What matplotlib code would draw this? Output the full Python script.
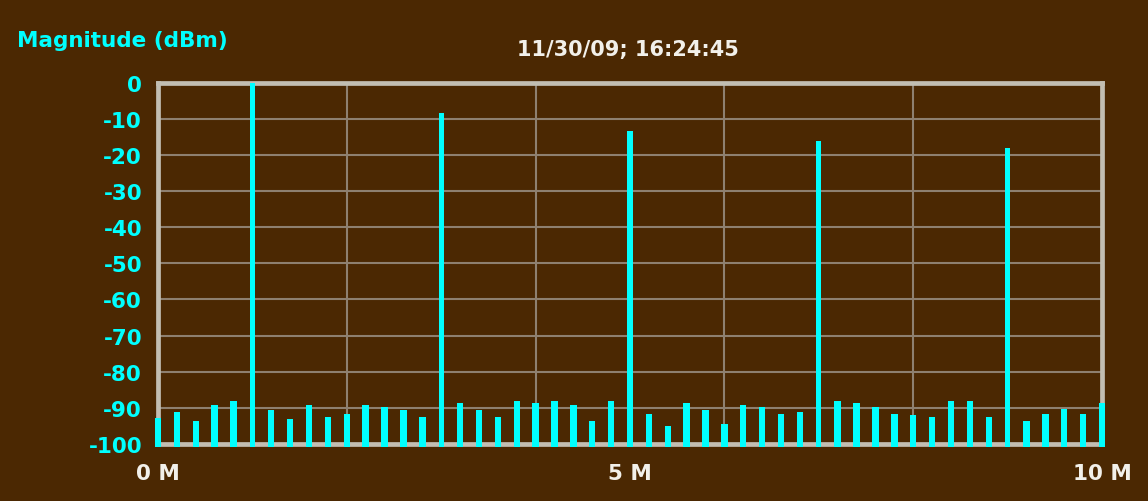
import numpy as np
import matplotlib
matplotlib.use("Agg")
import matplotlib.pyplot as plt

# Spectrum readout: one line every 0.2 MHz from 0 to 10 MHz
freq_mhz = [round(0.2 * i, 1) for i in range(51)]
magnitude_dbm = [
    -92.7, -91.2, -93.6, -89.2, -88.1, 0.0, -90.6, -93.1, -89.2, -92.4,
    -91.8, -89.2, -89.9, -90.6, -92.4, -8.5, -88.7, -90.6, -92.4, -88.1,
    -88.7, -88.1, -89.2, -93.6, -88.1, -13.3, -91.8, -94.9, -88.7, -90.6,
    -94.5, -89.2, -89.9, -91.8, -91.2, -16.3, -88.1, -88.7, -89.9, -91.8,
    -91.9, -92.4, -88.1, -88.1, -92.4, -18.0, -93.6, -91.8, -90.4, -91.8,
    -88.7,
]
y_ticks = list(range(0, -101, -10))
x_ticks = [0, 5, 10]
x_tick_labels = ["0 M", "5 M", "10 M"]
grid_x = [2, 4, 6, 8]
title_text = "11/30/09; 16:24:45"
ylabel_text = "Magnitude (dBm)"

BG = "#4b2802"
FRAME = "#c2beb2"
GRID = "#8e8070"
CYAN = "#00ffff"
WHITE = "#f2f0ea"
FONT = "DejaVu Sans"

fig = plt.figure(figsize=(11.48, 5.02), dpi=100, facecolor=BG)
ax = fig.add_axes([158 / 1148, 1 - 445 / 502, (1102 - 158) / 1148, (445 - 83.5) / 502])
ax.set_facecolor(BG)

# bars start slightly below the floor so they overlap the frame's bottom edge
base = -100.8
heights = [m - base for m in magnitude_dbm]
widths = [0.055 if m > -50 else 0.068 for m in magnitude_dbm]
ax.bar(freq_mhz, heights, bottom=base, width=widths, color=CYAN,
       edgecolor="none", zorder=5, clip_on=False)

ax.set_xlim(0, 10)
ax.set_ylim(-100, 0)

for gx in grid_x:
    ax.axvline(gx, color=GRID, lw=1.5, zorder=1)
for gy in y_ticks[1:-1]:
    ax.axhline(gy, color=GRID, lw=1.5, zorder=1)

for sp in ax.spines.values():
    sp.set_color(FRAME)
    sp.set_linewidth(3.4)
    sp.set_zorder(2)

ax.set_yticks(y_ticks)
ax.set_yticklabels([str(t) for t in y_ticks], color=CYAN, fontsize=15.5,
                   fontweight="bold", family=FONT)
ax.set_xticks(x_ticks)
ax.set_xticklabels(x_tick_labels, color=WHITE, fontsize=15.5,
                   fontweight="bold", family=FONT)
ax.tick_params(axis="y", length=0, pad=11.5)
ax.tick_params(axis="x", length=0, pad=14)

fig.text(17 / 1148, 1 - 41 / 502, ylabel_text, color=CYAN, fontsize=15.5,
         fontweight="bold", family=FONT, ha="left", va="center")
fig.text(628 / 1148, 1 - 50 / 502, title_text, color=WHITE, fontsize=15,
         fontweight="bold", family=FONT, ha="center", va="center")

fig.savefig("out.png", dpi=100, facecolor=BG)
